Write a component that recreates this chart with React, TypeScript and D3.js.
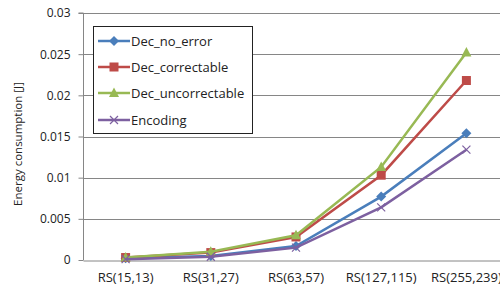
import React, { useRef, useEffect } from "react";
import * as d3 from "d3";

const categories = ["RS(15,13)", "RS(31,27)", "RS(63,57)", "RS(127,115)", "RS(255,239)"];
const yTicks = [0, 0.005, 0.01, 0.015, 0.02, 0.025, 0.03];
const yTickLabels = ["0", "0.005", "0.01", "0.015", "0.02", "0.025", "0.03"];

const decNoError = [0.0002, 0.0005, 0.0017, 0.0077, 0.0154];
const decCorrectable = [0.0003, 0.0009, 0.0028, 0.0103, 0.0218];
const decUncorrectable = [0.0003, 0.001, 0.003, 0.0113, 0.0252];
const encoding = [0.0001, 0.0004, 0.0015, 0.0064, 0.0134];

const seriesNames = ["Dec_no_error", "Dec_correctable", "Dec_uncorrectable", "Encoding"];
const seriesValues = [decNoError, decCorrectable, decUncorrectable, encoding];
const colors = ["#4a7ebb", "#be4b48", "#98b954", "#7d60a0"];
const markers = ["diamond", "square", "triangle", "x"];

const FONT = "'Open Sans', sans-serif";

const App = () => {
  const svgRef = useRef<SVGSVGElement>(null);

  useEffect(() => {
    const svg = d3.select(svgRef.current);
    svg.selectAll("*").remove();

    const width = 500;
    const height = 295;
    const margin = { top: 13, left: 83, bottom: 35 };
    const plotRight = 509;

    const x = d3.scaleBand().domain(categories).range([margin.left, plotRight]);
    const y = d3
      .scaleLinear()
      .domain([0, 0.03])
      .range([height - margin.bottom, margin.top]);

    svg.append("rect").attr("width", width).attr("height", height).attr("fill", "#fff");

    // gridlines
    svg
      .append("g")
      .selectAll("line")
      .data(yTicks.slice(1))
      .join("line")
      .attr("x1", margin.left)
      .attr("x2", plotRight)
      .attr("y1", (d) => Math.round(y(d)) + 0.5)
      .attr("y2", (d) => Math.round(y(d)) + 0.5)
      .attr("stroke", "#868686")
      .attr("stroke-width", 1);

    // y axis
    const yAxis = svg
      .append("g")
      .attr("transform", `translate(${margin.left + 0.5},0)`)
      .call(
        d3
          .axisLeft(y)
          .tickValues(yTicks)
          .tickSize(5)
          .tickPadding(8)
          .tickFormat((_, i) => yTickLabels[i])
      );
    yAxis.select(".domain").attr("stroke", "#868686").attr("d", `M-5,${y(0.03)}H0V${y(0)}`);
    yAxis.selectAll(".tick line").attr("stroke", "#868686");
    yAxis
      .selectAll(".tick text")
      .attr("font-family", FONT)
      .attr("font-size", 12)
      .attr("fill", "#222");

    // x axis
    const xAxis = svg
      .append("g")
      .attr("transform", `translate(0,${Math.round(y(0)) + 0.5})`)
      .call(d3.axisBottom(x).tickSize(0).tickPadding(12));
    xAxis.select(".domain").attr("stroke", "#868686");
    xAxis
      .selectAll(".tick text")
      .attr("font-family", FONT)
      .attr("font-size", 13)
      .attr("fill", "#222");

    // y title
    svg
      .append("text")
      .attr("transform", `translate(22,${144}) rotate(-90)`)
      .attr("text-anchor", "middle")
      .attr("font-family", FONT)
      .attr("font-size", 11.5)
      .attr("fill", "#222")
      .text("Energy consumption [J]");

    const cx = (i: number) => (x(categories[i]) as number) + x.bandwidth() / 2;

    const drawMarker = (g: any, type: string, px: number, py: number, color: string) => {
      if (type === "diamond") {
        g.append("path")
          .attr("d", `M${px},${py - 5}L${px + 5},${py}L${px},${py + 5}L${px - 5},${py}Z`)
          .attr("fill", color);
      } else if (type === "square") {
        g.append("rect")
          .attr("x", px - 4.5)
          .attr("y", py - 4.5)
          .attr("width", 9)
          .attr("height", 9)
          .attr("fill", color);
      } else if (type === "triangle") {
        g.append("path")
          .attr("d", `M${px},${py - 5.5}L${px + 5},${py + 4}L${px - 5},${py + 4}Z`)
          .attr("fill", color);
      } else {
        g.append("path")
          .attr("d", `M${px - 4},${py - 4}L${px + 4},${py + 4}M${px - 4},${py + 4}L${px + 4},${py - 4}`)
          .attr("stroke", color)
          .attr("stroke-width", 1.2)
          .attr("fill", "none");
      }
    };

    const line = d3
      .line<number>()
      .x((_, i) => cx(i))
      .y((d) => y(d));

    seriesValues.forEach((vals, s) => {
      const g = svg.append("g");
      g.append("path")
        .attr("d", line(vals))
        .attr("fill", "none")
        .attr("stroke", colors[s])
        .attr("stroke-width", 2.5);
      vals.forEach((v, i) => drawMarker(g, markers[s], cx(i), y(v), colors[s]));
    });

    // legend
    const legend = svg.append("g");
    legend
      .append("rect")
      .attr("x", 93.5)
      .attr("y", 26.5)
      .attr("width", 159)
      .attr("height", 107)
      .attr("fill", "#fff")
      .attr("stroke", "#222")
      .attr("stroke-width", 1);
    const legendY = [41, 67, 93, 120];
    seriesNames.forEach((name, s) => {
      const ly = legendY[s];
      legend
        .append("line")
        .attr("x1", 98)
        .attr("x2", 130)
        .attr("y1", ly)
        .attr("y2", ly)
        .attr("stroke", colors[s])
        .attr("stroke-width", 2.5);
      drawMarker(legend, markers[s], 114, ly, colors[s]);
      legend
        .append("text")
        .attr("x", 131)
        .attr("y", ly)
        .attr("dy", "0.35em")
        .attr("font-family", FONT)
        .attr("font-size", 13)
        .attr("fill", "#222")
        .text(name);
    });
  }, []);

  return (
    <svg
      ref={svgRef}
      width={500}
      height={295}
      style={{ position: "absolute", left: 0, top: 0, display: "block" }}
    />
  );
};

export default App;
